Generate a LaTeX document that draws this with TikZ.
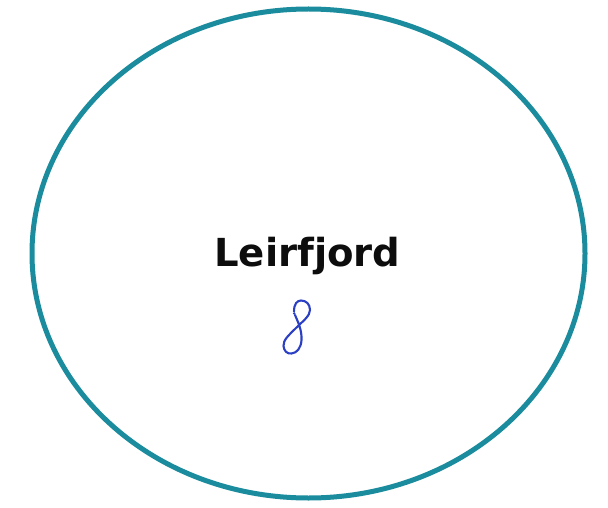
\documentclass[tikz,border=0pt]{standalone}
\usepackage{fontspec}
\setmainfont{DejaVu Sans}
\usetikzlibrary{shapes.geometric}
\definecolor{ringteal}{HTML}{1A8C9E}
\definecolor{penblue}{HTML}{2B3FC4}
\tikzset{
  ring/.style={draw=ringteal, line width=5pt},
  title/.style={font=\fontsize{38.6}{44}\selectfont\bfseries, text=black!95, inner sep=0pt},
  pen/.style={draw=penblue, line width=2.1pt, line cap=round, line join=round}
}
\begin{document}
\begin{tikzpicture}[x=1pt,y=-1pt]
\useasboundingbox (0,0) rectangle (608,508);
\fill[white] (0,0) rectangle (608,508);
\node[ring, ellipse, minimum width=553pt, minimum height=489pt, inner sep=0pt] (circ) at (308.5,253.5) {};
\node[title, anchor=base] (name) at (307.5,266) {Leirfjord};
\coordinate (p0) at (294,311.5);
\draw[pen] (p0) .. controls (294,304) and (297,300.5) .. (301,300.5)
  .. controls (306,300.5) and (310,304) .. (310,310)
  .. controls (310,316) and (303,321) .. (296,328)
  .. controls (289,335) and (283,340) .. (283.5,346)
  .. controls (284,351) and (287,354) .. (291.5,353.5)
  .. controls (297,353) and (301,348) .. (301.5,340)
  .. controls (302,330) and (298,322) .. (295,315);
\fill[penblue] (294.2,313.5) circle (1.4pt);
\end{tikzpicture}
\end{document}
